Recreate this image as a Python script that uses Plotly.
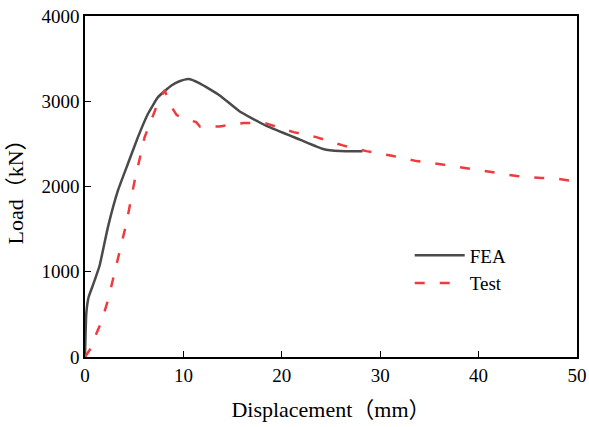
import plotly.graph_objects as go

fea_x = [0, 0.13, 0.37, 0.7, 0.98, 1.48, 2.33, 3.35, 4.36, 5.38, 6.4, 7.42, 8.78, 9.6, 10.5,
         11.66, 13.69, 15.73, 18.44, 21.83, 24.2, 25.9, 28.2]
fea_y = [0, 509, 703, 810, 899, 1070, 1524, 1954, 2267, 2579, 2853, 3048, 3185, 3235, 3260,
         3210, 3068, 2880, 2710, 2550, 2440, 2415, 2413]

test_x = [0, 0.64, 1.15, 1.66, 2.33, 3.35, 4.2, 5.05, 6.06, 7.25, 8.1, 8.6, 9.3, 10.1,
          11.3, 11.7, 12.5, 13.7, 16.1, 18.4, 21.2, 23.5, 26.2, 28.6, 31.2, 33.7, 36.3,
          38.8, 41.3, 43.9, 46.4, 47.5, 50]
test_y = [0, 110, 274, 410, 665, 1172, 1564, 2071, 2579, 2931, 3130, 2970, 2840, 2795,
          2755, 2700, 2700, 2705, 2745, 2740, 2638, 2579, 2482, 2415, 2360, 2298, 2259,
          2216, 2169, 2122, 2099, 2100, 2055]

x_ticks = [0, 10, 20, 30, 40, 50]
y_ticks = [0, 1000, 2000, 3000, 4000]

font_family = "Liberation Serif, Times New Roman, Noto Sans CJK SC, serif"
fs = 19
ts = 22

fig = go.Figure()
fig.add_trace(go.Scatter(x=fea_x, y=fea_y, mode="lines", name="FEA",
                         line=dict(color="#4a4a4a", width=2.5, shape="spline", smoothing=0.4)))
fig.add_trace(go.Scatter(x=test_x, y=test_y, mode="lines", name="Test",
                         line=dict(color="#ef3b3f", width=2.5, dash="10px,15px")))

axis_common = dict(showgrid=False, zeroline=False, showline=True, linecolor="black",
                   linewidth=1.5, mirror=True, ticks="inside", ticklen=6, tickwidth=1.2,
                   tickcolor="black", automargin=False,
                   tickfont=dict(size=fs, color="black", family=font_family))

fig.update_xaxes(range=[0, 50], tickvals=x_ticks, ticktext=[str(v) for v in x_ticks],
                 title=dict(text="Displacement（mm）", font=dict(size=ts, color="black", family=font_family),
                            standoff=17),
                 **axis_common)
fig.update_yaxes(range=[0, 4000], tickvals=y_ticks, ticktext=[str(v) for v in y_ticks],
                 title=dict(text="Load（kN）", font=dict(size=ts, color="black", family=font_family),
                            standoff=12),
                 **axis_common)

fig.update_layout(
    width=589, height=427,
    margin=dict(l=85, r=12, t=16, b=70, autoexpand=False),
    plot_bgcolor="white", paper_bgcolor="white",
    font=dict(family=font_family, size=fs, color="black"),
    legend=dict(x=0.66, y=0.257, xanchor="left", yanchor="middle", itemwidth=50,
                bgcolor="rgba(0,0,0,0)", font=dict(size=fs, family=font_family),
                tracegroupgap=0),
    showlegend=True,
)

fig.write_html("out.html", config={"displayModeBar": False},
               post_script="document.body.style.margin='0';")
